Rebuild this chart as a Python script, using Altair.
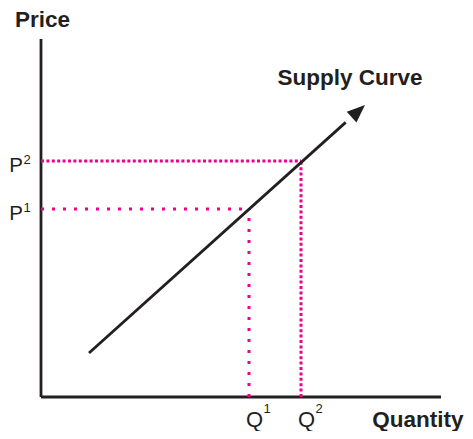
import math
import altair as alt
import pandas as pd

# ---- data (economic units) ----
q_levels = [52, 65]          # Q1, Q2
p_levels = [47, 59]          # P1, P2
level_names = ["1", "2"]
supply_q = [12, 81]          # start, arrow tip
supply_p = [11, 73]
axis_q_max = 100
axis_p_max = 89.5

INK = "#231f20"
MAG = "#ec008c"
FONT = "Liberation Sans"

W, H = 457, 423
xs = alt.Scale(domain=[-8.25, -8.25 + W / 4], nice=False, zero=False)
ys = alt.Scale(domain=[97.25 - H / 4, 97.25], nice=False, zero=False)
X = lambda f: alt.X(f, type="quantitative", scale=xs, axis=None)
Y = lambda f: alt.Y(f, type="quantitative", scale=ys, axis=None)

layers = []

# axes lines
axes_df = pd.DataFrame({"x": [0, 0], "y": [0, 0], "x2": [0, axis_q_max], "y2": [axis_p_max, 0]})
layers.append(alt.Chart(axes_df).mark_rule(color=INK, strokeWidth=2.8).encode(
    x=X("x"), y=Y("y"), x2="x2", y2="y2"))

# dotted guide lines
dashes = {"1": [3, 8], "2": [3, 2.4]}
for q, p, n in zip(q_levels, p_levels, level_names):
    df = pd.DataFrame({"x": [0, q], "y": [p, 0], "x2": [q, q], "y2": [p, p]})
    layers.append(alt.Chart(df).mark_rule(color=MAG, strokeWidth=3, strokeDash=dashes[n], strokeCap="butt").encode(
        x=X("x"), y=Y("y"), x2="x2", y2="y2"))

# supply line (stopping just inside the arrow head)
frac = 0.93
line_df = pd.DataFrame({
    "x": [supply_q[0]], "y": [supply_p[0]],
    "x2": [supply_q[0] + frac * (supply_q[1] - supply_q[0])],
    "y2": [supply_p[0] + frac * (supply_p[1] - supply_p[0])],
})
layers.append(alt.Chart(line_df).mark_rule(color=INK, strokeWidth=2.8).encode(
    x=X("x"), y=Y("y"), x2="x2", y2="y2"))

# arrow head
ang = 90 - math.degrees(math.atan2(supply_p[1] - supply_p[0], supply_q[1] - supply_q[0]))
tip_df = pd.DataFrame({"x": [supply_q[1]], "y": [supply_p[1]]})
layers.append(alt.Chart(tip_df).mark_point(
    shape="M0,0L-0.4,1L0.4,1Z", size=1296, filled=True, color=INK, opacity=1, angle=ang, strokeWidth=0
).encode(x=X("x"), y=Y("y")))

# titles
titles_df = pd.DataFrame({
    "x": [0.375, 77.25, 94.2],
    "y": [92.4, 78, -7.5],
    "t": ["Price", "Supply Curve", "Quantity"],
})
layers.append(alt.Chart(titles_df).mark_text(
    font=FONT, fontSize=22.5, fontWeight="bold", color=INK, align="center", baseline="alphabetic"
).encode(x=X("x"), y=Y("y"), text="t:N"))

# Q labels
ql_df = pd.DataFrame({"x": q_levels, "y": [0, 0], "t": ["Q", "Q"], "s": level_names})
layers.append(alt.Chart(ql_df).mark_text(
    font=FONT, fontSize=22, color=INK, align="center", baseline="alphabetic", dx=5.5, dy=30
).encode(x=X("x"), y=Y("y"), text="t:N"))
layers.append(alt.Chart(ql_df).mark_text(
    font=FONT, fontSize=13, color=INK, align="center", baseline="alphabetic", dx=18, dy=15.5
).encode(x=X("x"), y=Y("y"), text="s:N"))

# P labels
pl_df = pd.DataFrame({"x": [0, 0], "y": p_levels, "t": ["P", "P"], "s": level_names})
layers.append(alt.Chart(pl_df).mark_text(
    font=FONT, fontSize=20.5, color=INK, align="right", baseline="alphabetic", dx=-18, dy=11
).encode(x=X("x"), y=Y("y"), text="t:N"))
layers.append(alt.Chart(pl_df).mark_text(
    font=FONT, fontSize=13, color=INK, align="left", baseline="alphabetic", dx=-17.5, dy=3
).encode(x=X("x"), y=Y("y"), text="s:N"))

chart = alt.layer(*layers).properties(
    width=W, height=H,
    autosize=alt.AutoSizeParams(type="none"),
    padding=0,
    background="white",
).configure_view(stroke=None)

chart.save("out.html", embed_options={"renderer": "svg", "actions": False})
